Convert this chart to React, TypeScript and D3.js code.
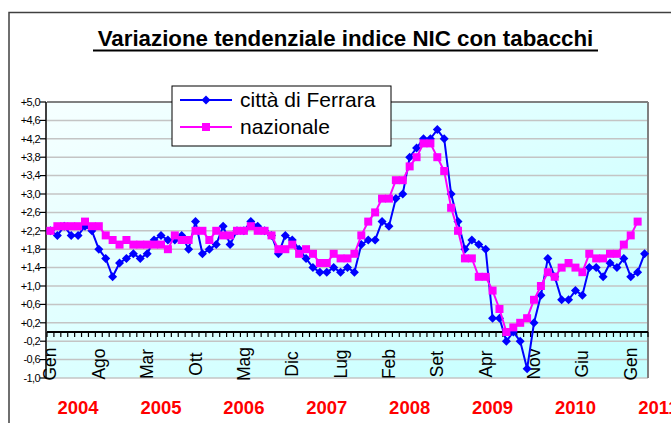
import React from "react";
import * as d3 from "d3";

// mesi abbreviati, anni e valori
const monthNames = ["Gen", "Feb", "Mar", "Apr", "Mag", "Giu", "Lug", "Ago", "Set", "Ott", "Nov", "Dic"];
const years = ["2004", "2005", "2006", "2007", "2008", "2009", "2010", "2011"];

const ferrara = [
  2.2, 2.1, 2.3, 2.1, 2.1, 2.3, 2.2, 1.8, 1.6, 1.2, 1.5, 1.6,
  1.7, 1.6, 1.7, 2.0, 2.1, 2.0, 2.0, 2.1, 1.8, 2.4, 1.7, 1.8,
  1.9, 2.3, 1.9, 2.2, 2.2, 2.4, 2.3, 2.2, 2.1, 1.7, 2.1, 2.0,
  1.8, 1.6, 1.4, 1.3, 1.3, 1.4, 1.3, 1.4, 1.3, 1.9, 2.0, 2.0,
  2.4, 2.3, 2.9, 3.0, 3.8, 4.0, 4.2, 4.2, 4.4, 4.2, 3.0, 2.4,
  1.8, 2.0, 1.9, 1.8, 0.3, 0.3, -0.2, 0.0, -0.2, -0.8, 0.2, 0.8,
  1.6, 1.2, 0.7, 0.7, 0.9, 0.8, 1.4, 1.4, 1.2, 1.5, 1.4, 1.6,
  1.2, 1.3, 1.7,
];

const nazionale = [
  2.2, 2.3, 2.3, 2.3, 2.3, 2.4, 2.3, 2.3, 2.1, 2.0, 1.9, 2.0,
  1.9, 1.9, 1.9, 1.9, 1.9, 1.8, 2.1, 2.0, 2.0, 2.2, 2.2, 2.0,
  2.2, 2.1, 2.1, 2.2, 2.2, 2.3, 2.2, 2.2, 2.1, 1.8, 1.8, 1.9,
  1.7, 1.8, 1.7, 1.5, 1.5, 1.7, 1.6, 1.6, 1.7, 2.1, 2.4, 2.6,
  2.9, 2.9, 3.3, 3.3, 3.6, 3.8, 4.1, 4.1, 3.8, 3.5, 2.7, 2.2,
  1.6, 1.6, 1.2, 1.2, 0.9, 0.5, 0.0, 0.1, 0.2, 0.3, 0.7, 1.0,
  1.3, 1.2, 1.4, 1.5, 1.4, 1.3, 1.7, 1.6, 1.6, 1.7, 1.7, 1.9,
  2.1, 2.4,
];

const yTicks = [-1.0, -0.6, -0.2, 0.2, 0.6, 1.0, 1.4, 1.8, 2.2, 2.6, 3.0, 3.4, 3.8, 4.2, 4.6, 5.0];

const categories = ferrara.map((_, i) => `${monthNames[i % 12]} ${years[Math.floor(i / 12)]}`);

const left = 47;
const right = 648;
const top = 102;
const bottom = 378;

const fmt = (v: number) => (v > 0 ? "+" : "") + v.toFixed(1).replace(".", ",");

export default function App() {
  const x = d3.scaleBand<string>().domain(categories).range([left, right]).padding(0);
  const y = d3.scaleLinear().domain([-1, 5]).range([bottom, top]);
  const bw = x.bandwidth();
  const cx = (i: number) => (x(categories[i]) as number) + bw / 2;
  const y0 = y(0);

  const line = d3
    .line<number>()
    .x((_, i) => cx(i))
    .y((d) => y(d));

  const diamond = (px: number, py: number, r: number) =>
    `M${px},${py - r}L${px + r},${py}L${px},${py + r}L${px - r},${py}Z`;

  const ft = "Arial, 'Liberation Sans', sans-serif";

  return (
    <svg width={671} height={423} style={{ position: "absolute", left: 0, top: 0 }}>
      <defs>
        <linearGradient id="bg" x1="0" y1="0" x2="1" y2="1">
          <stop offset="0%" stopColor="#f6ffff" />
          <stop offset="100%" stopColor="#c2ffff" />
        </linearGradient>
      </defs>
      <rect width={671} height={423} fill="#fff" />
      <rect x={9} y={12.5} width={700} height={450} fill="none" stroke="#404040" strokeWidth={1.5} />

      <text x={345.5} y={46} textAnchor="middle" fontFamily={ft} fontWeight="bold" fontSize={22.3} fill="#000">
        Variazione tendenziale indice NIC con tabacchi
      </text>
      <line x1={93} x2={598} y1={50.5} y2={50.5} stroke="#000" strokeWidth={2} />

      <rect x={left} y={top} width={right - left} height={bottom - top} fill="url(#bg)" />
      {yTicks.map((t) => (
        <line key={t} x1={left} x2={right} y1={y(t)} y2={y(t)} stroke="#c4c4c4" strokeWidth={1.5} />
      ))}
      <line x1={left} x2={right} y1={top} y2={top} stroke="#808080" strokeWidth={2} />
      <line x1={right} x2={right} y1={top} y2={bottom} stroke="#808080" strokeWidth={2} />

      <line x1={left - 1} x2={left - 1} y1={top} y2={bottom} stroke="#000" strokeWidth={1.5} />
      {yTicks.map((t) => (
        <g key={"l" + t}>
          <line x1={left - 7} x2={left - 1} y1={y(t)} y2={y(t)} stroke="#000" strokeWidth={1.2} />
          <text
            x={left - 7}
            y={y(t)}
            dy="0.35em"
            textAnchor="end"
            fontFamily={ft}
            fontSize={11}
            letterSpacing={-0.6}
            fill="#000"
          >
            {fmt(t)}
          </text>
        </g>
      ))}

      <line x1={left} x2={right} y1={y0} y2={y0} stroke="#000" strokeWidth={2} />
      {d3.range(categories.length + 1).map((i) => {
        const xx = left + i * bw;
        return <line key={"t" + i} x1={xx} x2={xx} y1={y0} y2={y0 + 5} stroke="#000" strokeWidth={1.2} />;
      })}

      {categories.map((c, i) =>
        i % 7 === 0 ? (
          <text
            key={"c" + i}
            transform={`translate(${cx(i) + 6},364) rotate(-90)`}
            textAnchor="middle"
            fontFamily={ft}
            fontSize={17.5}
            fill="#000"
          >
            {monthNames[i % 12]}
          </text>
        ) : null
      )}

      {years.map((yr, k) => (
        <text
          key={yr}
          x={left + (k * 12 + 4.5) * bw}
          y={414}
          textAnchor="middle"
          fontFamily={ft}
          fontWeight="bold"
          fontSize={18.5}
          fill="#ff0000"
        >
          {yr}
        </text>
      ))}

      <path d={line(ferrara) || ""} fill="none" stroke="#0000ff" strokeWidth={2} />
      {ferrara.map((v, i) => (
        <path key={"f" + i} d={diamond(cx(i), y(v), 4.5)} fill="#0000ff" />
      ))}

      <path d={line(nazionale) || ""} fill="none" stroke="#ff00ff" strokeWidth={2} />
      {nazionale.map((v, i) => (
        <rect key={"n" + i} x={cx(i) - 4} y={y(v) - 4} width={8} height={8} fill="#ff00ff" />
      ))}

      <rect x={172} y={86} width={219} height={60} fill="#fff" stroke="#000" strokeWidth={1} />
      <line x1={180} x2={232} y1={100} y2={100} stroke="#0000ff" strokeWidth={2} />
      <path d={diamond(206, 100, 4.5)} fill="#0000ff" />
      <text x={240} y={100} dy="0.35em" fontFamily={ft} fontSize={21} fill="#000">
        città di Ferrara
      </text>
      <line x1={180} x2={232} y1={127} y2={127} stroke="#ff00ff" strokeWidth={2} />
      <rect x={202} y={123} width={8} height={8} fill="#ff00ff" />
      <text x={240} y={127} dy="0.35em" fontFamily={ft} fontSize={21} fill="#000">
        nazionale
      </text>
    </svg>
  );
}
